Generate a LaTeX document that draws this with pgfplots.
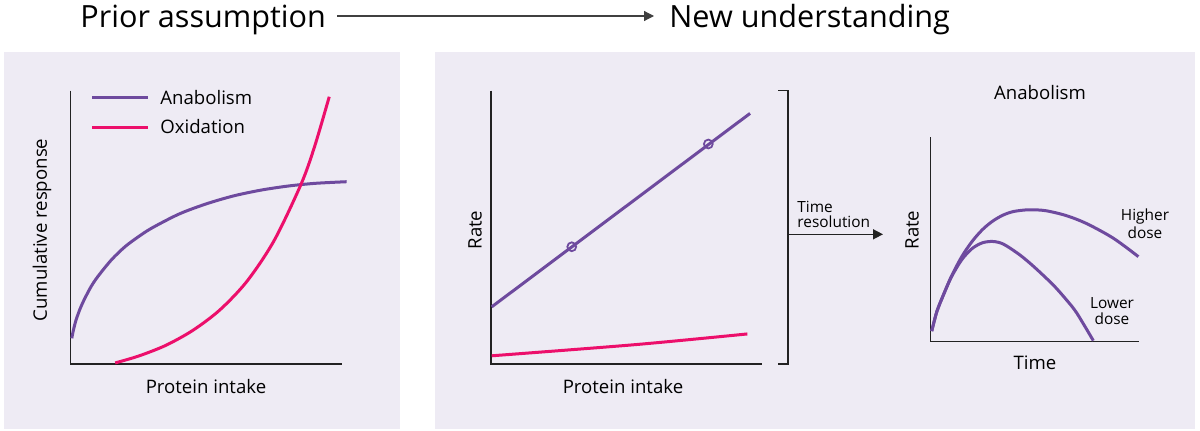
\documentclass[border=0pt]{standalone}
\usepackage{pgfplots}
\pgfplotsset{compat=1.18}
\usepackage{fontspec}
\setmainfont{Open Sans}
\usetikzlibrary{arrows.meta}
\definecolor{panel}{HTML}{EEEBF4}
\definecolor{anab}{HTML}{6E4A9E}
\definecolor{oxid}{HTML}{EC0F6B}
\definecolor{axline}{HTML}{222222}

\begin{document}
\begin{tikzpicture}[x=1pt,y=1pt]
\pgfplotsset{
    sketch/.style={
        scale only axis,
        axis lines=none,
        xmin=0, xmax=100,
        ymin=0, ymax=100,
        clip=false,
        anchor=south west,
    }
}
\def\lab{\fontsize{9.3}{11}\selectfont}
\def\small{\fontsize{7.7}{9}\selectfont}
\path[use as bounding box, fill=white] (0,0) rectangle (600,215);

% panels
\fill[panel] (2,0.5) rectangle (200,189);
\fill[panel] (217.5,0.5) rectangle (597.5,189);

% heading
\node[font=\fontsize{15.3}{17}\selectfont, anchor=base west, inner sep=0pt] at (40,201.5) {Prior assumption};
\draw[black!75, line width=0.6pt, -{Triangle[length=5pt,width=5pt]}] (168.5,207) -- (327,207);
\node[font=\fontsize{15.3}{17}\selectfont, anchor=base west, inner sep=0pt] at (334.5,201.5) {New understanding};

% Left panel: cumulative response
\begin{axis}[sketch, at={(35.35pt,33pt)}, width=135.65pt, height=136.65pt]
\draw[axline, line width=0.75pt] (rel axis cs:0,1) -- (rel axis cs:0,0) -- (rel axis cs:1,0);
\addplot[anab, line width=1.5pt, smooth] coordinates {
    (0.4,9.4) (1,12.4) (2,16.2) (3.5,20.3) (5,23.6) (7.5,28.3) (10,32.0) (15,38.1)
    (20,42.9) (25,46.6) (30,49.8) (40,54.9) (50,58.6) (60,61.5) (70,63.6)
    (80,65.1) (90,66.1) (101.7,66.7)
};
\addplot[oxid, line width=1.5pt, smooth] coordinates {
    (16.4,0.4) (25,2.9) (35,6.8) (45,12.3) (55,19.8) (65,30.3)
    (75,45.2) (85,66.0) (90,79.9) (95.3,97.8)
};
\end{axis}
\draw[anab, line width=1.5pt] (46,166.15) -- (74,166.15);
\node[font=\lab, anchor=west, inner sep=0pt] at (80,166.15) {Anabolism};
\draw[oxid, line width=1.5pt] (46,151.5) -- (74,151.5);
\node[font=\lab, anchor=west, inner sep=0pt] at (80,151.5) {Oxidation};
\node[font=\lab, rotate=90] at (21,100) {Cumulative response};
\node[font=\lab] at (103,21.5) {Protein intake};

% Middle panel: rate vs intake
\begin{axis}[sketch, at={(245.5pt,33pt)}, width=135.5pt, height=136.65pt]
\draw[axline, line width=0.75pt] (rel axis cs:0,1) -- (rel axis cs:0,0) -- (rel axis cs:1,0);
\addplot[anab, line width=1.5pt] coordinates {(0.26,20.9) (95.6,91.7)};
\addplot[anab, line width=0.9pt, only marks, mark=o, mark size=2.2pt] coordinates {(29.8,42.9) (80.2,80.5)};
\addplot[oxid, line width=1.5pt, smooth] coordinates {(0.26,3.0) (53.4,7.1) (94.6,11.0)};
\end{axis}
\node[font=\lab, rotate=90] at (237.5,100) {Rate};
\node[font=\lab] at (311.5,21.5) {Protein intake};

% bracket and arrow
\draw[axline, line width=0.75pt] (389,169.65) -- (394,169.65) -- (394,33) -- (389,33);
\draw[axline, line width=0.75pt, -{Triangle[length=5pt,width=5pt]}] (394,97.85) -- (441.5,97.85);
\node[font=\small, anchor=base west, inner sep=0pt] at (398.5,108.85) {Time};
\node[font=\small, anchor=base west, inner sep=0pt] at (398.5,101.35) {resolution};

% Right panel: anabolism over time
\begin{axis}[sketch, at={(465.25pt,44.25pt)}, width=104.25pt, height=102.25pt]
\draw[axline, line width=0.75pt] (rel axis cs:0,1) -- (rel axis cs:0,0) -- (rel axis cs:1,0);
% higher dose
\addplot[anab, line width=1.5pt, smooth] coordinates {
    (0.6,5.1) (3,14.5) (6,22.3) (10,31.8) (15,41.5) (20,49.0) (25,54.8)
    (30,59.0) (35,61.9) (40,63.6) (47,64.4) (55,64.0) (65,61.6) (75,57.6)
    (87.7,50.5) (99.7,41.5)
};
% lower dose
\addplot[anab, line width=1.5pt, smooth] coordinates {
    (0.6,5.1) (3,14.5) (6,22.3) (10,31.5) (15,40.0) (20,45.5) (25,48.3)
    (30,48.9) (35,47.6) (42.9,42.3) (50,36.2) (58.9,27.6) (65,20.6)
    (70.1,14.0) (78.1,0.4)
};
\end{axis}
\node[font=\lab] at (520,168.5) {Anabolism};
\node[font=\lab, rotate=90] at (456,100) {Rate};
\node[font=\lab] at (517.5,33.5) {Time};
\node[font=\small] at (572.5,106.65) {Higher};
\node[font=\small] at (572.5,98.85) {dose};
\node[font=\small] at (556,63.5) {Lower};
\node[font=\small] at (556,55.5) {dose};
\end{tikzpicture}
\end{document}
